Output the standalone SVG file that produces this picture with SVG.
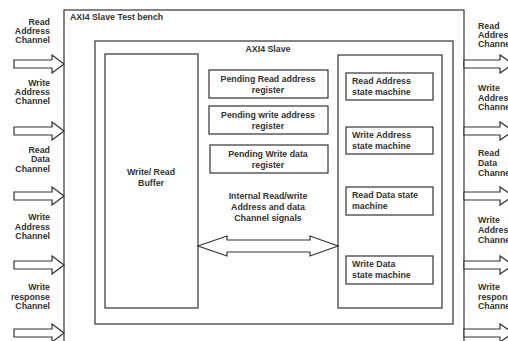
<svg xmlns="http://www.w3.org/2000/svg" width="508" height="341" viewBox="0 0 508 341">
<style>
.box{fill:#fff;stroke:#333;stroke-width:1.2}
.arr{fill:#fff;stroke:#333;stroke-width:1.2;stroke-linejoin:miter}
text{font-family:"Liberation Sans",Arial,sans-serif;font-weight:bold;font-size:8.8px;fill:#333}
.c{text-anchor:middle}
.e{text-anchor:end}
</style>
<defs>
<path id="la" d="M14,60 H52 V55 L64,64 L52,73 V68 H14 Z"/>
<path id="ra" d="M464,60 H500 V55 L513,64 L500,73 V68 H464 Z"/>
</defs>
<rect width="508" height="341" fill="#fff"/>
<g id="testbench">
<rect class="box" x="64" y="10" width="400" height="340"/>
<text x="70" y="20">AXI4 Slave Test bench</text>
</g>
<g id="slave">
<rect class="box" x="95" y="41" width="358" height="283"/>
<text class="c" x="268" y="52">AXI4 Slave</text>
</g>
<g id="buffer">
<rect class="box" x="105" y="54" width="93" height="254"/>
<text class="c" x="151" y="175">Write/ Read</text>
<text class="c" x="151" y="186">Buffer</text>
</g>
<g id="pend-raddr">
<rect class="box" x="209" y="70" width="119" height="28"/>
<text class="c" x="268" y="82">Pending Read address</text>
<text class="c" x="268" y="93">register</text>
</g>
<g id="pend-waddr">
<rect class="box" x="209" y="106" width="119" height="28"/>
<text class="c" x="268" y="118">Pending write address</text>
<text class="c" x="268" y="129">register</text>
</g>
<g id="pend-wdata">
<rect class="box" x="210" y="145" width="118" height="28"/>
<text class="c" x="268" y="157">Pending Write data</text>
<text class="c" x="268" y="168">register</text>
</g>
<g id="internal-label">
<text class="c" x="268" y="199">Internal Read/write</text>
<text class="c" x="268" y="210">Address and data</text>
<text class="c" x="268" y="221">Channel signals</text>
</g>
<g id="sm">
<rect class="box" x="338" y="55" width="104" height="253"/>
</g>
<g id="sm-raddr">
<rect class="box" x="346" y="73" width="87" height="27"/>
<text x="352" y="84">Read Address</text>
<text x="352" y="95">state machine</text>
</g>
<g id="sm-waddr">
<rect class="box" x="346" y="127" width="87" height="27"/>
<text x="352" y="138">Write Address</text>
<text x="352" y="149">state machine</text>
</g>
<g id="sm-rdata">
<rect class="box" x="346" y="187" width="87" height="28"/>
<text x="352" y="198">Read Data state</text>
<text x="352" y="209">machine</text>
</g>
<g id="sm-wdata">
<rect class="box" x="346" y="256" width="87" height="28"/>
<text x="352" y="267">Write Data</text>
<text x="352" y="278">state machine</text>
</g>
<g id="connectors">
<path class="arr" d="M198,246 L227,236 V240 H310 V236 L338,246 L310,256 V252 H227 V256 Z"/>
<use href="#la" class="arr"/>
<use href="#la" class="arr" y="67"/>
<use href="#la" class="arr" y="132"/>
<use href="#la" class="arr" y="201"/>
<use href="#la" class="arr" y="269"/>
<use href="#ra" class="arr"/>
<use href="#ra" class="arr" y="67"/>
<use href="#ra" class="arr" y="132"/>
<use href="#ra" class="arr" y="201"/>
<use href="#ra" class="arr" y="269"/>
</g>
<g id="left-labels">
<text class="e" x="50" y="25">Read</text>
<text class="e" x="50" y="34">Address</text>
<text class="e" x="50" y="43">Channel</text>
<text class="e" x="50" y="86">Write</text>
<text class="e" x="50" y="95">Address</text>
<text class="e" x="50" y="104">Channel</text>
<text class="e" x="50" y="153">Read</text>
<text class="e" x="50" y="162">Data</text>
<text class="e" x="50" y="172">Channel</text>
<text class="e" x="50" y="220">Write</text>
<text class="e" x="50" y="230">Address</text>
<text class="e" x="50" y="239">Channel</text>
<text class="e" x="50" y="290">Write</text>
<text class="e" x="50" y="300">response</text>
<text class="e" x="50" y="309">Channel</text>
</g>
<g id="right-labels">
<text x="478" y="29">Read</text>
<text x="478" y="38">Address</text>
<text x="478" y="47">Channel</text>
<text x="478" y="91">Write</text>
<text x="478" y="101">Address</text>
<text x="478" y="110">Channel</text>
<text x="478" y="156">Read</text>
<text x="478" y="166">Data</text>
<text x="478" y="176">Channel</text>
<text x="478" y="223">Write</text>
<text x="478" y="233">Address</text>
<text x="478" y="243">Channel</text>
<text x="478" y="290">Write</text>
<text x="478" y="300">response</text>
<text x="478" y="309">Channel</text>
</g>
</svg>
